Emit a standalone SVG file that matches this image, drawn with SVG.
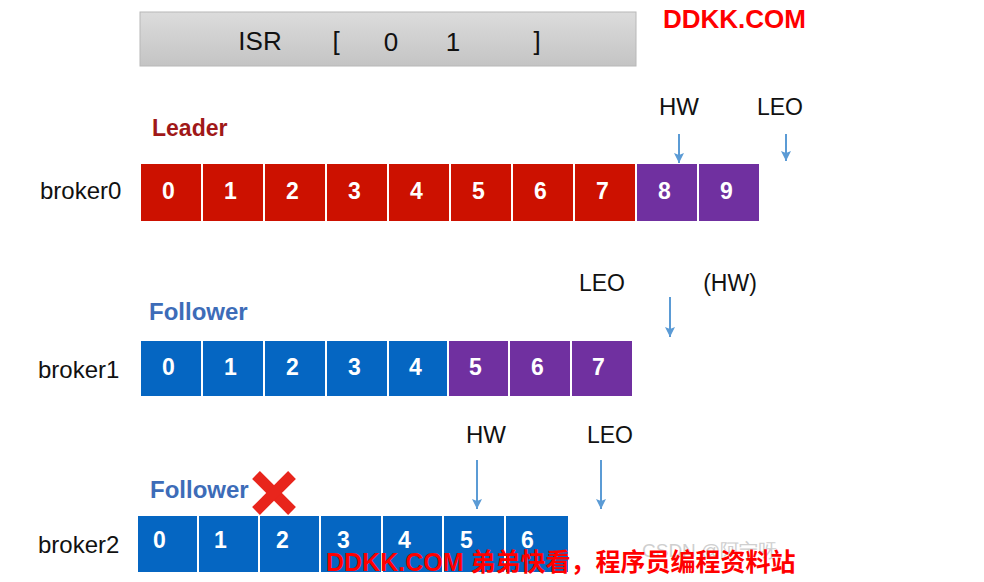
<svg xmlns="http://www.w3.org/2000/svg" width="984" height="582" viewBox="0 0 984 582">
<defs>
<linearGradient id="g" x1="0" y1="0" x2="0" y2="1"><stop offset="0" stop-color="#dcdcdc"/><stop offset="1" stop-color="#c4c4c4"/></linearGradient>
<marker id="ah" markerWidth="12" markerHeight="12" refX="10" refY="6" orient="auto" markerUnits="userSpaceOnUse" viewBox="0 0 12 12"><path d="M0,1 L10,6 L0,11 L2,6 Z" fill="#5b9bd5"/></marker>
</defs>
<style>
text{font-family:"Liberation Sans",Arial,sans-serif}
.r{fill:#cc1100}.p{fill:#7030a0}.b{fill:#0566c2}
.d{fill:#fff;font-weight:bold;font-size:23px}
.l{fill:#111;font-size:23px}
.a{stroke:#5b9bd5;stroke-width:2;fill:none;marker-end:url(#ah)}
.wm{fill:#ff0000;font-weight:bold;font-size:25px}
</style>
<rect width="984" height="582" fill="#fff"/>
<g id="isr">
<rect x="140" y="12" width="496" height="54" fill="url(#g)" stroke="#b8b8b8"/>
<text class="l" x="260" y="50" text-anchor="middle" style="font-size:26px">ISR</text>
<text class="l" x="336" y="50" text-anchor="middle" style="font-size:26px">[</text>
<text class="l" x="391" y="51" text-anchor="middle" style="font-size:26px">0</text>
<text class="l" x="453" y="51" text-anchor="middle" style="font-size:26px">1</text>
<text class="l" x="537" y="50" text-anchor="middle" style="font-size:26px">]</text>
</g>
<text class="wm" x="663" y="28" style="font-size:26px">DDKK.COM</text>
<g id="broker0">
<text class="l" x="40" y="199" style="font-size:24px">broker0</text>
<text x="152" y="136" fill="#a01818" font-weight="bold" font-size="23">Leader</text>
<g>
<rect class="r" x="141" y="164" width="60" height="57"/><text class="d" x="162" y="199">0</text>
<rect class="r" x="203" y="164" width="60" height="57"/><text class="d" x="224" y="199">1</text>
<rect class="r" x="265" y="164" width="60" height="57"/><text class="d" x="286" y="199">2</text>
<rect class="r" x="327" y="164" width="60" height="57"/><text class="d" x="348" y="199">3</text>
<rect class="r" x="389" y="164" width="60" height="57"/><text class="d" x="410" y="199">4</text>
<rect class="r" x="451" y="164" width="60" height="57"/><text class="d" x="472" y="199">5</text>
<rect class="r" x="513" y="164" width="60" height="57"/><text class="d" x="534" y="199">6</text>
<rect class="r" x="575" y="164" width="60" height="57"/><text class="d" x="596" y="199">7</text>
<rect class="p" x="637" y="164" width="60" height="57"/><text class="d" x="658" y="199">8</text>
<rect class="p" x="699" y="164" width="60" height="57"/><text class="d" x="720" y="199">9</text>
</g>
<text class="l" x="679" y="115" text-anchor="middle" style="font-size:24px">HW</text>
<text class="l" x="780" y="115" text-anchor="middle">LEO</text>
</g>
<g id="broker1">
<text class="l" x="38" y="378" style="font-size:24px">broker1</text>
<text x="149" y="320" fill="#3d6cb8" font-weight="bold" font-size="24">Follower</text>
<rect class="b" x="141" y="341" width="60" height="55"/><text class="d" x="162" y="375">0</text>
<rect class="b" x="203" y="341" width="60" height="55"/><text class="d" x="224" y="375">1</text>
<rect class="b" x="265" y="341" width="60" height="55"/><text class="d" x="286" y="375">2</text>
<rect class="b" x="327" y="341" width="60" height="55"/><text class="d" x="348" y="375">3</text>
<rect class="b" x="389" y="341" width="58" height="55"/><text class="d" x="409" y="375">4</text>
<rect class="p" x="449" y="341" width="59" height="55"/><text class="d" x="469" y="375">5</text>
<rect class="p" x="510" y="341" width="60" height="55"/><text class="d" x="531" y="375">6</text>
<rect class="p" x="572" y="341" width="60" height="55"/><text class="d" x="592" y="375">7</text>
<text class="l" x="602" y="291" text-anchor="middle">LEO</text>
<text class="l" x="730" y="291" text-anchor="middle">(HW)</text>
</g>
<g id="broker2">
<text class="l" x="38" y="553" style="font-size:24px">broker2</text>
<text x="150" y="498" fill="#3d6cb8" font-weight="bold" font-size="24">Follower</text>
<rect class="b" x="138" y="516" width="59" height="56"/><text class="d" x="153" y="548">0</text>
<rect class="b" x="199" y="516" width="59" height="56"/><text class="d" x="214" y="548">1</text>
<rect class="b" x="260" y="516" width="59" height="56"/><text class="d" x="276" y="548">2</text>
<rect class="b" x="321" y="516" width="60" height="56"/><text class="d" x="337" y="548">3</text>
<rect class="b" x="383" y="516" width="59" height="56"/><text class="d" x="398" y="548">4</text>
<rect class="b" x="444" y="516" width="60" height="56"/><text class="d" x="460" y="548">5</text>
<rect class="b" x="506" y="516" width="62" height="56"/><text class="d" x="521" y="548">6</text>
<g id="cross" stroke="#e8251c" stroke-width="11" stroke-linecap="butt">
<line x1="256" y1="475" x2="292" y2="511"/><line x1="292" y1="475" x2="256" y2="511"/>
</g>
<text class="l" x="486" y="443" text-anchor="middle" style="font-size:24px">HW</text>
<text class="l" x="610" y="443" text-anchor="middle">LEO</text>
</g>
<g id="connectors">
<line class="a" x1="679" y1="134" x2="679" y2="163"/>
<line class="a" x1="786" y1="134" x2="786" y2="161"/>
<line class="a" x1="670" y1="297" x2="670" y2="337"/>
<line class="a" x1="477" y1="460" x2="477" y2="509"/>
<line class="a" x1="601" y1="460" x2="601" y2="509"/>
</g>
<text x="642" y="557" fill="#cfcfcf" font-size="19" font-family="'Liberation Sans','Noto Sans CJK SC',sans-serif">CSDN @阿宁呀</text>
<text class="wm" x="326" y="571" style="font-family:'Liberation Sans','Noto Sans CJK SC',sans-serif">DDKK.COM 弟弟快看，程序员编程资料站</text>
</svg>
